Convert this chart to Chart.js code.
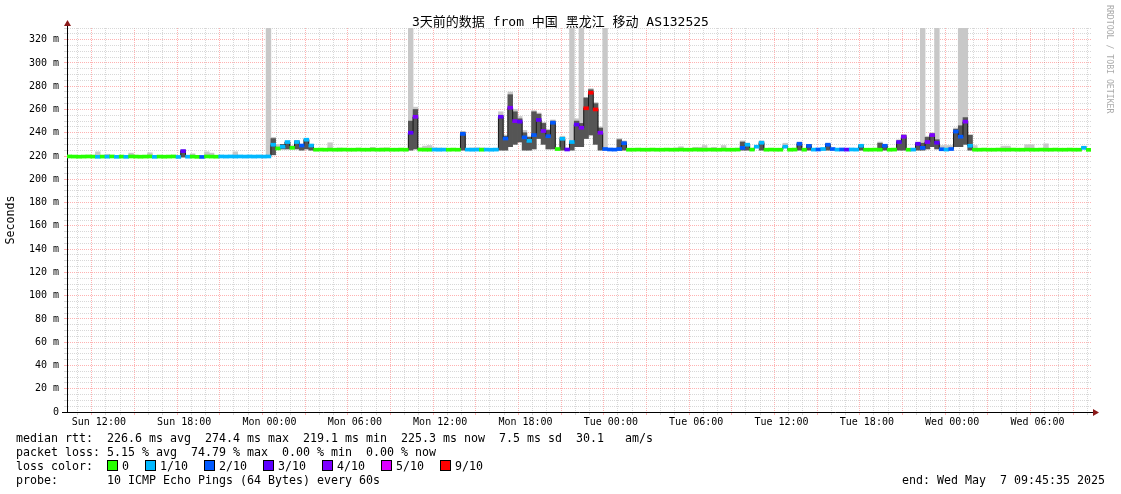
<!DOCTYPE html>
<html>
<head>
<meta charset="utf-8">
<script src="https://cdn.jsdelivr.net/npm/chart.js@4.4.1/dist/chart.umd.min.js"></script>
<style>
  body { margin: 0; background: #fff; }
  #wrap { position: relative; width: 1121px; height: 494px; overflow: hidden;
          font-family: "DejaVu Sans Mono", monospace; color: #000; }
  #graph { position: absolute; left: 0; top: 0; }
  #title { position: absolute; left: 0; top: 14px; width: 1121px; text-align: center; white-space: pre;
           font-family: "DejaVu Sans Mono", "Noto Sans CJK SC", monospace; font-size: 13px; line-height: 16px; }
  #mark { position: absolute; left: 1105px; top: 5px; writing-mode: vertical-rl; white-space: pre;
          font-size: 8.2px; color: #aaa; }
  .txt { position: absolute; white-space: pre; font-size: 11.63px; line-height: 14px; }
  .box { display: inline-block; width: 9px; height: 9px; border: 1px solid #000; margin-right: 4px; vertical-align: -1px; }
  .lbl { margin-right: 16px; }
</style>
</head>
<body>
<div id="wrap">
  <canvas id="graph" width="1121" height="494"></canvas>
  <div id="title">3天前的数据 from 中国 黑龙江 移动 AS132525</div>
  <div id="mark">RRDTOOL / TOBI OETIKER</div>
  <div class="txt" style="left:16px;top:431px">median rtt:  226.6 ms avg  274.4 ms max  219.1 ms min  225.3 ms now  7.5 ms sd  30.1   am/s</div>
  <div class="txt" style="left:16px;top:445px">packet loss: 5.15 % avg  74.79 % max  0.00 % min  0.00 % now</div>
  <div class="txt" id="lossRow" style="left:16px;top:459px">loss color:  </div>
  <div class="txt" style="left:16px;top:473px">probe:       10 ICMP Echo Pings (64 Bytes) every 60s</div>
  <div class="txt" style="right:16px;top:473px">end: Wed May  7 09:45:35 2025</div>
</div>
<script>
// 20 minute bins, time in hours after Sun 00:00
const START = 9 + 45 / 60 + 35 / 3600;
const STEP = 1 / 3;
const dayNames = ["Sun", "Mon", "Tue", "Wed"];

// median rtt per bin (ms)
const median = [
  219.6, 219.5, 219.4, 219.5, 219.6, 219.5, 219.3, 219.5, 219.4, 219.6, 219.3, 219.5,
  219.3, 219.6, 219.5, 219.4, 219.5, 219.6, 219.3, 219.5, 219.4, 219.5, 219.6, 219.2,
  224.2, 219.4, 219.5, 219.3, 219.2, 219.6, 219.5, 219.4, 219.6, 219.5, 219.6, 219.5,
  219.6, 219.5, 219.6, 219.5, 219.6, 219.5, 219.6, 229.7, 226.5, 228.0, 232.0, 227.0,
  232.0, 229.0, 234.0, 229.0, 225.4, 225.5, 225.4, 225.5, 225.4, 225.4, 225.5, 225.4,
  225.4, 225.5, 225.4, 225.4, 225.5, 225.4, 225.4, 225.5, 225.4, 225.4, 225.5, 225.4,
  240.0, 253.7, 225.5, 225.4, 225.4, 225.5, 225.4, 225.5, 225.4, 225.5, 225.4, 239.0,
  225.5, 225.4, 225.5, 225.4, 225.5, 225.4, 225.5, 253.7, 235.0, 261.5, 250.0, 249.5,
  236.0, 233.0, 238.0, 251.0, 241.5, 237.0, 248.6, 226.0, 234.8, 225.6, 232.0, 247.0,
  244.3, 261.0, 274.4, 260.0, 240.0, 226.0, 225.6, 225.5, 226.0, 231.0, 225.4, 225.4,
  225.5, 225.4, 225.4, 225.5, 225.4, 225.4, 225.5, 225.4, 225.4, 225.5, 225.4, 225.4,
  225.5, 225.4, 225.4, 225.5, 225.4, 225.4, 225.5, 225.4, 225.4, 225.5, 227.0, 229.7,
  225.5, 228.0, 231.4, 225.4, 225.5, 225.4, 225.4, 228.0, 225.4, 225.5, 230.5, 225.4,
  228.7, 225.5, 225.6, 226.0, 229.7, 226.0, 225.5, 225.6, 225.5, 225.6, 225.5, 228.8,
  225.4, 225.4, 225.5, 225.4, 228.8, 225.4, 225.5, 232.0, 236.6, 225.4, 225.5, 230.5,
  227.0, 232.0, 238.0, 231.4, 225.8, 225.5, 226.0, 241.0, 236.6, 249.5, 228.8, 225.4,
  225.4, 225.5, 225.4, 225.4, 225.5, 225.4, 225.4, 225.5, 225.4, 225.4, 225.5, 225.4,
  225.4, 225.5, 225.4, 225.4, 225.5, 225.4, 225.4, 225.5, 225.4, 225.4, 227.0, 225.3
];

// lost pings out of 10 per bin
const loss = [
  0, 0, 0, 0, 0, 0, 1, 0, 1, 0, 1, 0,
  1, 0, 0, 0, 0, 0, 1, 0, 0, 0, 0, 1,
  3, 1, 0, 0, 2, 0, 0, 0, 1, 1, 1, 1,
  1, 1, 1, 1, 1, 1, 1, 1, 0, 1, 1, 0,
  1, 2, 1, 1, 0, 0, 0, 0, 0, 0, 0, 0,
  0, 0, 0, 0, 0, 0, 0, 0, 0, 0, 0, 0,
  3, 4, 0, 0, 0, 1, 1, 1, 0, 0, 0, 2,
  1, 1, 1, 0, 1, 1, 1, 3, 2, 4, 4, 3,
  2, 1, 2, 3, 4, 2, 2, 0, 1, 3, 1, 3,
  4, 9, 9, 9, 4, 2, 2, 2, 2, 2, 0, 0,
  0, 0, 0, 0, 0, 0, 0, 0, 0, 0, 0, 0,
  0, 0, 0, 0, 0, 0, 0, 0, 0, 0, 2, 1,
  0, 1, 1, 0, 0, 0, 0, 1, 0, 0, 2, 0,
  2, 1, 2, 1, 2, 2, 1, 2, 3, 1, 1, 1,
  0, 0, 0, 0, 2, 0, 0, 3, 4, 0, 1, 3,
  2, 4, 4, 3, 2, 1, 2, 2, 2, 4, 1, 0,
  0, 0, 0, 0, 0, 0, 0, 0, 0, 0, 0, 0,
  0, 0, 0, 0, 0, 0, 0, 0, 0, 0, 1, 0
];

// slowest ping per bin (light smoke top), null where it sits on the median
const pingMax = [
  null, null, null, null, null, null, 223.6, null, 221.5, null, null, null,
  null, 222.5, null, null, null, 222.8, null, null, null, null, null, null,
  225.0, null, 221.9, null, null, 223.6, 222.5, null, null, null, null, 223.6,
  null, null, null, null, null, null, 340, 236, 230, null, 232.5, 229,
  233, 230, 235, 230, null, null, null, 231.4, null, 227, null, null,
  null, 226.8, null, null, 227.5, null, 227, 227, null, null, null, null,
  340, 262, 227, 228.5, 229, 227, 227, null, null, null, null, 241,
  null, 227, 227, 227, null, null, null, 258, 238, 275, 260, 254,
  242, 237, 259, 257, 249, 243, 251, null, 237, null, 340, 252,
  340, 268, 278, 266, 245, 340, null, null, 235, 233, null, null,
  null, null, null, null, 226.5, 226.5, null, null, 227, 228, null, null,
  227.5, 227.5, 229, null, 227.5, null, 229, null, null, null, 233, 231,
  null, 229, 233, null, null, null, null, 231, null, null, 232, null,
  230, null, null, null, 231, null, null, null, null, null, null, 230,
  null, null, null, 232, 230, null, null, 234, 238, null, null, 232,
  340, 237, 240, 340, 229, 229, 229, 244, 340, 340, 233, 229,
  null, null, null, null, null, 228.5, 228.5, null, null, null, 229.7, 229.7,
  null, null, 230.5, null, null, null, null, null, null, null, 228.5, null
];

// dense smoke band [low, high] per bin
const darkSmoke = [
  null, null, null, null, null, null, null, null, null, null, null, null,
  null, null, null, null, null, null, null, null, null, null, null, null,
  [219, 225], null, null, null, null, null, null, null, null, null, null, null,
  null, null, null, null, null, null, null, [221, 235], null, [226, 230], [226, 232], null,
  [226, 233], [225, 230], [226, 234.5], [225, 230], null, null, null, null, null, null, null, null,
  null, null, null, null, null, null, null, null, null, null, null, null,
  [225, 250], [226, 260], null, null, null, null, null, null, null, null, null, [225, 240.5],
  null, null, null, null, null, null, null, [225, 255], [225, 237], [228, 272.7], [230, 258], [232, 252],
  [225, 240], [225, 236], [226, 258], [235, 256], [230, 248], [226, 242], [226, 250], null, [225, 236], null, [225, 232], [228, 250],
  [228, 248], [235, 270], [238, 277], [230, 265], [225, 244], null, null, null, [225, 234], [225, 232], null, null,
  null, null, null, null, null, null, null, null, null, null, null, null,
  null, null, null, null, null, null, null, null, null, null, [225, 232], [225, 230],
  null, null, [225, 232], null, null, null, null, null, null, null, [225, 231], null,
  [225, 230], null, null, null, [225, 230], null, null, null, null, null, null, [225, 229.5],
  null, null, null, [225, 231], [225, 230], null, null, [225, 233], [225, 238], null, null, [225, 231],
  [225, 231], [226, 236], [228, 239], [226, 234], null, null, null, [228, 243], [228, 246], [230, 253], [225, 238], null,
  null, null, null, null, null, null, null, null, null, null, null, null,
  null, null, null, null, null, null, null, null, null, null, null, null
];

const lossKeys = [0, 1, 2, 3, 4, 5, 9];
const lossLabels = ["0", "1/10", "2/10", "3/10", "4/10", "5/10", "9/10"];
const lossColors = ["#26ff00", "#00b8ff", "#0059ff", "#5e00ff", "#7e00ff", "#dd00ff", "#ff0000"];

const MAJOR = "rgba(255, 0, 0, 0.3)";
const MINOR = "rgba(190, 190, 190, 0.6)";
const MONO = "'DejaVu Sans Mono', monospace";

// loss legend row
const lossRow = document.getElementById("lossRow");
lossKeys.forEach((k, i) => {
  const box = document.createElement("span");
  box.className = "box";
  box.style.background = lossColors[i];
  const lbl = document.createElement("span");
  lbl.className = "lbl";
  lbl.textContent = lossLabels[i];
  lossRow.appendChild(box);
  lossRow.appendChild(lbl);
});

const colorFor = (l) => lossColors[lossKeys.indexOf(l)];
const times = median.map((_, i) => START + (i + 0.5) * STEP);

// axis arrows like rrdtool draws them
const axisArrows = {
  id: "axisArrows",
  afterDraw(chart) {
    const { ctx, chartArea } = chart;
    const { left, right, top, bottom } = chartArea;
    ctx.save();
    ctx.strokeStyle = "#000";
    ctx.lineWidth = 1;
    ctx.beginPath();
    ctx.moveTo(left + 0.5, top);
    ctx.lineTo(left + 0.5, top - 3);
    ctx.moveTo(left - 5, bottom + 0.5);
    ctx.lineTo(left, bottom + 0.5);
    ctx.moveTo(right, bottom + 0.5);
    ctx.lineTo(right + 3, bottom + 0.5);
    ctx.stroke();
    ctx.fillStyle = "#8b1a1a";
    ctx.beginPath();
    ctx.moveTo(left + 0.5, top - 8);
    ctx.lineTo(left - 3, top - 2);
    ctx.lineTo(left + 4, top - 2);
    ctx.closePath();
    ctx.fill();
    ctx.beginPath();
    ctx.moveTo(right + 8, bottom + 0.5);
    ctx.lineTo(right + 2, bottom - 3);
    ctx.lineTo(right + 2, bottom + 4);
    ctx.closePath();
    ctx.fill();
    ctx.restore();
  },
};

const barCommon = { type: "bar", grouped: false, barPercentage: 1, categoryPercentage: 1, borderWidth: 0 };

new Chart(document.getElementById("graph"), {
  type: "bar",
  plugins: [axisArrows],
  data: {
    datasets: [
      {
        ...barCommon,
        label: "median rtt",
        order: 1,
        data: times.map((t, i) => ({ x: t, y: [median[i] - 1.3, median[i] + 1.3] })),
        backgroundColor: loss.map(colorFor),
      },
      {
        type: "line",
        label: "median step",
        order: 2,
        data: times.map((t, i) => ({ x: t, y: median[i] })),
        stepped: "middle",
        borderColor: "#1a1a1a",
        borderWidth: 1,
        pointRadius: 0,
      },
      {
        ...barCommon,
        label: "smoke",
        order: 3,
        data: times.map((t, i) => ({ x: t, y: darkSmoke[i] })),
        backgroundColor: "#555555",
      },
      {
        ...barCommon,
        label: "max",
        order: 4,
        data: times.map((t, i) => ({ x: t, y: pingMax[i] == null ? null : [median[i], pingMax[i]] })),
        backgroundColor: "#c8c8c8",
      },
    ],
  },
  options: {
    responsive: false,
    animation: false,
    devicePixelRatio: 1,
    layout: { padding: { top: 28, right: 30, bottom: 62, left: 0 } },
    plugins: { legend: { display: false }, tooltip: { enabled: false } },
    scales: {
      x: {
        type: "linear",
        min: START,
        max: START + 72,
        offset: false,
        afterBuildTicks: (axis) => {
          const ticks = [];
          for (let h = Math.ceil(START); h <= START + 72; h++) ticks.push({ value: h });
          axis.ticks = ticks;
        },
        afterFit: (s) => { s.height = 20; },
        grid: {
          color: (c) => (c.tick && c.tick.value % 3 === 0 ? MAJOR : MINOR),
          tickLength: 3,
        },
        border: { display: true, color: "#000", width: 1, dash: [1, 1] },
        ticks: {
          autoSkip: false,
          maxRotation: 0,
          padding: 1,
          color: "#000",
          font: { family: MONO, size: 10 },
          callback: (v) => (v % 6 === 0 ? dayNames[Math.floor(v / 24)] + " " + String(v % 24).padStart(2, "0") + ":00" : ""),
        },
      },
      y: {
        type: "linear",
        min: 0,
        max: 330,
        afterBuildTicks: (axis) => {
          const ticks = [];
          for (let v = 0; v <= 330; v += 5) ticks.push({ value: v });
          axis.ticks = ticks;
        },
        afterFit: (s) => { s.width = 67; },
        grid: {
          color: (c) => (c.tick && c.tick.value % 20 === 0 ? MAJOR : MINOR),
          tickLength: 3,
        },
        border: { display: true, color: "#000", width: 1, dash: [1, 1] },
        title: {
          display: true,
          text: "Seconds",
          color: "#000",
          font: { family: MONO, size: 11.63 },
          padding: { top: 4, bottom: 0 },
        },
        ticks: {
          autoSkip: false,
          padding: 5,
          color: "#000",
          font: { family: MONO, size: 10 },
          callback: (v) => (v % 20 === 0 ? (v === 0 ? "0" : v + " m") : ""),
        },
      },
    },
  },
});
</script>
</body>
</html>
